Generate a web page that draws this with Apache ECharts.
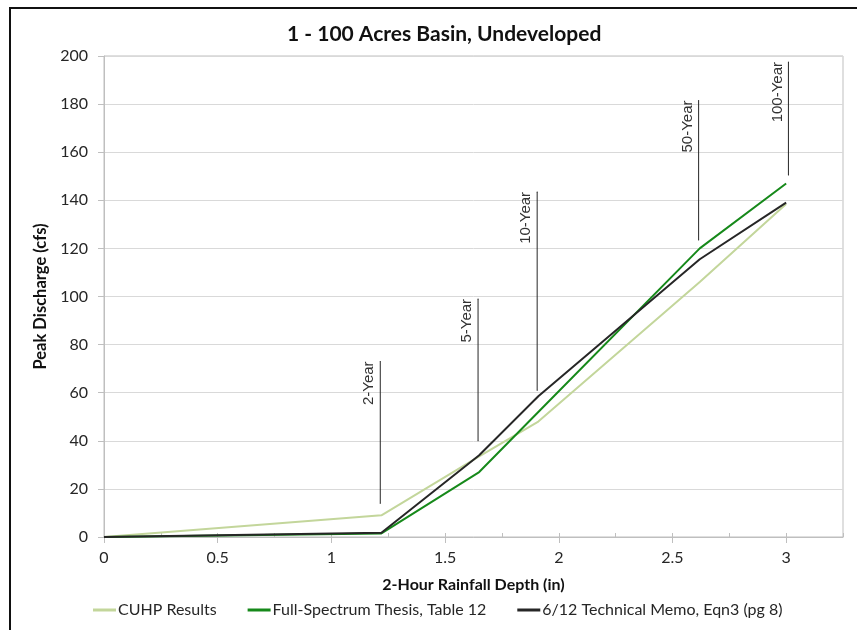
<!DOCTYPE html>
<html>
<head>
<meta charset="utf-8">
<script src="https://cdn.jsdelivr.net/npm/echarts@6/dist/echarts.min.js"></script>
<style>
  html, body { margin: 0; padding: 0; background: #fff; }
  #frame { position: absolute; left: 9px; top: 7px; width: 860px; height: 640px;
           border-top: 2px solid #111; border-left: 2px solid #111; }
  #chart { position: absolute; left: 0; top: 0; width: 857px; height: 630px; }
</style>
</head>
<body>
<div id="frame"></div>
<div id="chart"></div>
<script>
// 2-hour rainfall depth (in) at each storm frequency
const rainfallDepth = [0, 1.22, 1.65, 1.91, 2.62, 3.0];
// Peak discharge (cfs) from each method
const cuhpResults = [0, 9, 33.5, 48, 106, 138.5];
const thesisTable12 = [0, 1.5, 27, 52, 120, 147];
const memoEqn3 = [0, 1.8, 34, 58.5, 115.5, 139];

// Return-period marker lines
const periodNames = ['2-Year', '5-Year', '10-Year', '50-Year', '100-Year'];
const periodDepth = [1.215, 1.645, 1.905, 2.615, 3.01];
const periodLow = [14, 40, 61, 123.5, 150.5];
const periodHigh = [73, 99, 143.5, 181.5, 197.5];

const seriesNames = ['CUHP Results', 'Full-Spectrum Thesis, Table 12', '6/12 Technical Memo, Eqn3 (pg 8)'];
const seriesValues = [cuhpResults, thesisTable12, memoEqn3];
const seriesColors = ['#c3d69b', '#16891a', '#262626'];

const FONT = 'Lato';
const chart = echarts.init(document.getElementById('chart'), null, { renderer: 'canvas' });

const pairs = vals => rainfallDepth.map((x, i) => [x, vals[i]]);

const series = seriesNames.map((name, k) => ({
  name, type: 'line', xAxisIndex: 0, yAxisIndex: 0,
  data: pairs(seriesValues[k]),
  showSymbol: false, symbol: 'none',
  lineStyle: { color: seriesColors[k], width: 2 },
  itemStyle: { color: seriesColors[k] },
  z: 3 + k, animation: false
}));

periodNames.forEach((label, i) => {
  series.push({
    name: label, type: 'line', xAxisIndex: 0, yAxisIndex: 0,
    data: [
      [periodDepth[i], periodLow[i]],
      { value: [periodDepth[i], periodHigh[i]],
        label: { show: true, formatter: label, rotate: 90, position: 'left', distance: 3,
                 align: 'right', verticalAlign: 'bottom',
                 color: '#333', fontFamily: 'Liberation Sans', fontSize: 15 } }
    ],
    symbol: 'circle', symbolSize: 1, showSymbol: true,
    itemStyle: { color: '#262626' },
    lineStyle: { color: '#262626', width: 1 },
    z: 2, animation: false, silent: true
  });
});

chart.setOption({
  animation: false,
  backgroundColor: 'transparent',
  title: {
    text: '1 - 100 Acres Basin, Undeveloped', left: 282, top: 19,
    textStyle: { fontFamily: FONT, fontWeight: 'bold', fontSize: 21, color: '#111' }
  },
  grid: { left: 104, right: 14, top: 56, bottom: 93, show: true,
          borderColor: '#bfbfbf', borderWidth: 1, backgroundColor: 'transparent' },
  legend: {
    data: seriesNames, top: 597, left: 88, icon: 'rect',
    itemWidth: 23, itemHeight: 3, itemGap: 31,
    textStyle: { fontFamily: FONT, fontSize: 16, color: '#262626', padding: [0, 0, 0, -3] }
  },
  xAxis: [{
    type: 'value', min: 0, max: 3.25, interval: 0.5,
    name: '2-Hour Rainfall Depth (in)', nameLocation: 'middle', nameGap: 40,
    nameTextStyle: { fontFamily: FONT, fontWeight: 'bold', fontSize: 16, color: '#111' },
    axisLine: { show: true, lineStyle: { color: '#bfbfbf' } },
    axisTick: { show: true, length: 6, lineStyle: { color: '#bfbfbf' } },
    axisLabel: { showMaxLabel: false, margin: 13, fontFamily: FONT, fontSize: 16, color: '#262626' },
    splitLine: { show: false }
  }, {
    type: 'value', min: 0, max: 3.25, interval: 0.25, position: 'bottom', gridIndex: 0,
    axisLine: { show: false },
    axisTick: { show: true, inside: true, length: 4, lineStyle: { color: '#bfbfbf' } },
    axisLabel: { show: false }, splitLine: { show: false }
  }],
  yAxis: {
    type: 'value', min: 0, max: 200, interval: 20,
    name: 'Peak Discharge (cfs)', nameLocation: 'middle', nameGap: 45, nameRotate: 90,
    nameTextStyle: { fontFamily: FONT, fontWeight: 'bold', fontSize: 16.5, color: '#111' },
    axisLine: { show: true, lineStyle: { color: '#bfbfbf' } },
    axisTick: { show: true, length: 6, lineStyle: { color: '#bfbfbf' } },
    axisLabel: { margin: 16, fontFamily: FONT, fontSize: 16, color: '#262626' },
    splitLine: { show: true, lineStyle: { color: '#d9d9d9', width: 1 } }
  },
  series
});
</script>
</body>
</html>
